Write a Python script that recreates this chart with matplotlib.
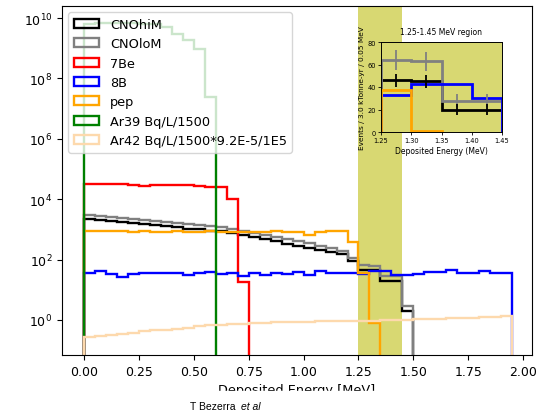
import numpy as np
import matplotlib
matplotlib.use('Agg')
import matplotlib.pyplot as plt
from matplotlib.patches import Rectangle
from matplotlib.ticker import NullLocator

# 0.05 MeV bins, 0 - 1.95 MeV
edges = np.round(np.arange(0, 1.951, 0.05), 2)
centers = edges[:-1] + 0.025

# events per bin
cno_hi = [2140, 2000, 1860, 1740, 1580, 1480, 1380, 1260, 1175, 1070,
          1000, 912, 870, 760, 645, 550, 468, 400, 340, 288,
          250, 214, 182, 148, 93, 46, 45, 20, 20, 2.0]
cno_lo = [3020, 2820, 2630, 2455, 2240, 2090, 1950, 1780, 1660, 1510,
          1410, 1290, 1230, 1070, 912, 776, 661, 562, 479, 407,
          355, 282, 240, 186, 112, 64, 63, 28, 28, 2.9]
be7 = [3.2e4, 3.3e4, 3.2e4, 3.1e4, 2.9e4, 2.8e4, 3.0e4, 3.0e4, 2.9e4, 2.9e4,
       2.8e4, 2.6e4, 2.5e4, 1.0e4, 18]
b8 = [36, 42, 33, 27, 33, 37, 37, 37, 36, 31,
      37, 39, 33, 36, 29, 35, 31, 36, 33, 40,
      32, 41, 36, 36, 35, 33, 43, 43, 30, 30,
      33, 38, 38, 44, 36, 36, 42, 36, 36]
pep = [880, 870, 860, 880, 850, 860, 840, 850, 860, 840,
       850, 860, 850, 840, 850, 830, 840, 860, 850, 830,
       650, 850, 860, 855, 380, 37, 0.8]
ar39 = [6.5e9, 6.8e9, 7.0e9, 7.0e9, 6.8e9, 6.6e9, 6.3e9, 5.0e9, 2.9e9, 1.9e9,
        9.3e8, 2.4e7]
ar42 = [0.28, 0.30, 0.32, 0.35, 0.37, 0.43, 0.45, 0.48, 0.52, 0.56,
        0.62, 0.66, 0.68, 0.72, 0.76, 0.79, 0.82, 0.85, 0.86, 0.88,
        0.88, 0.90, 0.90, 0.92, 0.92, 0.93, 0.95, 0.97, 0.99, 1.00,
        1.05, 1.08, 1.10, 1.12, 1.15, 1.18, 1.22, 1.28, 1.32]

labels = ['CNOhiM', 'CNOloM', '7Be', '8B', 'pep', 'Ar39 Bq/L/1500',
          'Ar42 Bq/L/1500*9.2E-5/1E5']
colors = ['black', 'gray', 'red', 'blue', 'orange', 'green', '#fdd9ad']
series = [cno_hi, cno_lo, be7, b8, pep, ar39, ar42]

# inset: bins 1.25-1.45 (bin index 25..28) with error bars
roi = slice(25, 29)
err_hi = [6, 6, 5, 5]
err_lo = [8.5, 8.5, 6, 6]

band = '#d8d872'

fig = plt.figure(figsize=(5.41, 4.14), dpi=100)
ax = fig.add_axes([62 / 541, 1 - 356 / 414, 470 / 541, 349 / 414])
ax.axvspan(1.25, 1.45, color=band, lw=0, zorder=0)
for vals, c, lab in zip(series, colors, labels):
    n = len(vals)
    ax.hist(centers[:n], bins=edges[:n + 1], weights=vals, histtype='step',
            color=c, lw=1.7, label=lab, log=True)

ax.set_xlim(-0.1, 2.04)
ax.set_ylim(10 ** -1.16, 10 ** 10.4)
ax.set_yticks([1e0, 1e2, 1e4, 1e6, 1e8, 1e10])
ax.yaxis.set_minor_locator(NullLocator())
ax.set_xticks(np.arange(0, 2.01, 0.25))
ax.tick_params(labelsize=9)
ax.set_xlabel('Deposited Energy [MeV]', fontsize=9.3)
ax.legend(loc='upper left', fontsize=9.3)

# zoomed region inset
axi = fig.add_axes([381 / 541, 1 - 133 / 414, 121 / 541, 90 / 414], facecolor=band)
for vals, c in [(cno_hi, 'black'), (cno_lo, 'gray'), (b8, 'blue'), (pep, 'orange')]:
    v = vals[roi]
    axi.hist(centers[roi][:len(v)], bins=edges[25:26 + len(v)], weights=v,
             histtype='step', color=c, lw=2)
axi.errorbar(centers[roi], cno_lo[roi], yerr=err_lo, fmt='none', ecolor='gray', elinewidth=1.3)
axi.errorbar(centers[roi], cno_hi[roi], yerr=err_hi, fmt='none', ecolor='black', elinewidth=1.3)
axi.set_xlim(1.25, 1.45)
axi.set_ylim(0, 80)
axi.set_xticks([1.25, 1.30, 1.35, 1.40, 1.45])
axi.set_yticks([0, 20, 40, 60, 80])
axi.tick_params(labelsize=4.8, length=2, width=0.6, pad=1.5)
axi.set_title('1.25-1.45 MeV region', fontsize=5.5, pad=6)
axi.set_xlabel('Deposited Energy (MeV)', fontsize=5.5, labelpad=2)
axi.set_ylabel('Events / 3.0 kTonne-yr / 0.05 MeV', fontsize=5.3, labelpad=2)
for s in axi.spines.values():
    s.set_linewidth(0.7)

# cut-off bottom strip and credit
fig.patches.append(Rectangle((0, 0), 1, 22 / 414, transform=fig.transFigure,
                             color='white', zorder=10))
fig.text(190 / 541, 1 - 407 / 414, 'T Bezerra', fontsize=7.5, family='Liberation Sans',
         va='center', zorder=11)
fig.text(241 / 541, 1 - 407 / 414, 'et al', fontsize=7.5, family='Liberation Sans',
         style='italic', va='center', zorder=11)

fig.savefig('out.png', dpi=100)
